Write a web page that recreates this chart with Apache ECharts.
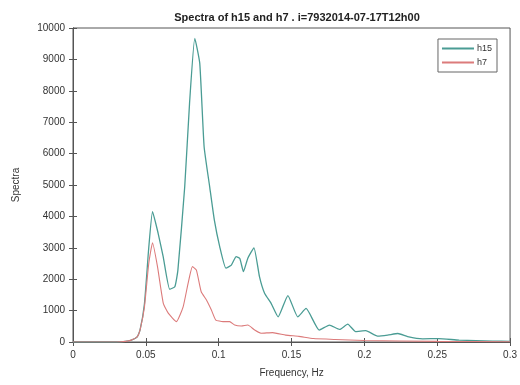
<!DOCTYPE html>
<html><head><meta charset="utf-8">
<script src="https://cdn.jsdelivr.net/npm/echarts@6/dist/echarts.min.js"></script>
<style>html,body{margin:0;padding:0;background:#fff}#c{width:520px;height:385px}</style>
</head><body><div id="c"></div>
<script>
const titleText = 'Spectra of h15 and h7 . i=7932014-07-17T12h00';
const xTicks = [0, 0.05, 0.1, 0.15, 0.2, 0.25, 0.3];
const h15Freq = [0, 0.03, 0.036, 0.04, 0.044, 0.046, 0.049, 0.052, 0.0546, 0.0584, 0.0619, 0.0664, 0.0699, 0.072, 0.0767, 0.080, 0.0836, 0.087, 0.090, 0.0938, 0.097, 0.1007, 0.105, 0.1087, 0.112, 0.1145, 0.117, 0.120, 0.1242, 0.128, 0.1315, 0.136, 0.1408, 0.1475, 0.1543, 0.160, 0.169, 0.176, 0.183, 0.1886, 0.194, 0.201, 0.209, 0.216, 0.223, 0.2297, 0.24, 0.251, 0.265, 0.288, 0.3];
const h15Vals = [0, 0, 20, 60, 160, 380, 1200, 3000, 4150, 3470, 2720, 1680, 1760, 2290, 4950, 7600, 9670, 8880, 6220, 4950, 3890, 3040, 2350, 2450, 2720, 2660, 2240, 2670, 3000, 2080, 1550, 1230, 800, 1480, 800, 1070, 380, 540, 400, 570, 330, 360, 190, 220, 270, 170, 100, 110, 60, 30, 20];
const h7Freq = [0, 0.03, 0.036, 0.04, 0.044, 0.046, 0.049, 0.052, 0.0546, 0.058, 0.062, 0.0655, 0.071, 0.0756, 0.079, 0.082, 0.0847, 0.088, 0.0916, 0.095, 0.098, 0.103, 0.1075, 0.111, 0.1155, 0.12, 0.1247, 0.129, 0.137, 0.146, 0.155, 0.165, 0.18, 0.2, 0.25, 0.3];
const h7Vals = [0, 0, 20, 60, 160, 380, 1100, 2500, 3160, 2400, 1230, 910, 650, 1120, 1870, 2400, 2290, 1600, 1340, 1020, 700, 650, 650, 540, 510, 540, 380, 280, 300, 220, 180, 110, 80, 50, 20, 10];

const zip = (a, b) => a.map((x, i) => [x, b[i]]);
const axCol = '#555';
const lblCol = '#333';
const font = 'Liberation Sans, Arial, sans-serif';
const chart = echarts.init(document.getElementById('c'), null, {renderer: 'canvas'});
chart.setOption({
  animation: false,
  backgroundColor: '#fff',
  title: {text: titleText, left: 292, textAlign: 'center', top: 7,
    textStyle: {fontSize: 11, fontWeight: 'bold', color: '#222', fontFamily: font}},
  grid: {left: 73, right: 9, top: 28, bottom: 43, show: true, borderColor: axCol, borderWidth: 1},
  legend: {orient: 'vertical', right: 23, top: 39, itemWidth: 32, itemHeight: 2, itemGap: 5,
    padding: [5, 5, 5, 4], borderColor: '#666', borderWidth: 1, backgroundColor: '#fff',
    icon: 'rect', textStyle: {fontSize: 9, color: lblCol, fontFamily: font, padding: [0, 0, 0, -2]},
    data: ['h15', 'h7']},
  xAxis: [{type: 'value', min: 0, max: 0.3, interval: 0.05,
    name: 'Frequency, Hz', nameLocation: 'middle', nameGap: 26,
    nameTextStyle: {fontSize: 10, color: lblCol, fontFamily: font},
    axisLine: {show: true, lineStyle: {color: axCol}},
    axisTick: {show: true, inside: true, length: 4, lineStyle: {color: axCol}},
    axisLabel: {fontSize: 10, color: lblCol, fontFamily: font, margin: 8,
      formatter: v => String(parseFloat(v.toFixed(2)))},
    splitLine: {show: false}},
   {type: 'value', position: 'top', min: 0, max: 0.3, interval: 0.05,
    axisLine: {show: true, lineStyle: {color: axCol}},
    axisTick: {show: true, inside: true, length: 4, lineStyle: {color: axCol}},
    axisLabel: {show: false}, splitLine: {show: false}}],
  yAxis: [{type: 'value', min: 0, max: 10000, interval: 1000,
    name: 'Spectra', nameLocation: 'middle', nameGap: 52,
    nameTextStyle: {fontSize: 10, color: lblCol, fontFamily: font},
    axisLine: {show: true, lineStyle: {color: axCol}},
    axisTick: {show: true, inside: true, length: 4, lineStyle: {color: axCol}},
    axisLabel: {fontSize: 10, color: lblCol, fontFamily: font, margin: 8, formatter: v => String(v)},
    splitLine: {show: false}},
   {type: 'value', position: 'right', min: 0, max: 10000, interval: 1000,
    axisLine: {show: true, lineStyle: {color: axCol}},
    axisTick: {show: true, inside: true, length: 4, lineStyle: {color: axCol}},
    axisLabel: {show: false}, splitLine: {show: false}}],
  series: [
    {name: 'h15', type: 'line', data: zip(h15Freq, h15Vals), showSymbol: false, smooth: 0.15,
      lineStyle: {width: 1.3, color: '#4a9c94'}, itemStyle: {color: '#4a9c94'}},
    {name: 'h7', type: 'line', data: zip(h7Freq, h7Vals), showSymbol: false, smooth: 0.15,
      lineStyle: {width: 1.1, color: '#dc7b7b'}, itemStyle: {color: '#dc7b7b'}}
  ]
});
</script></body></html>
